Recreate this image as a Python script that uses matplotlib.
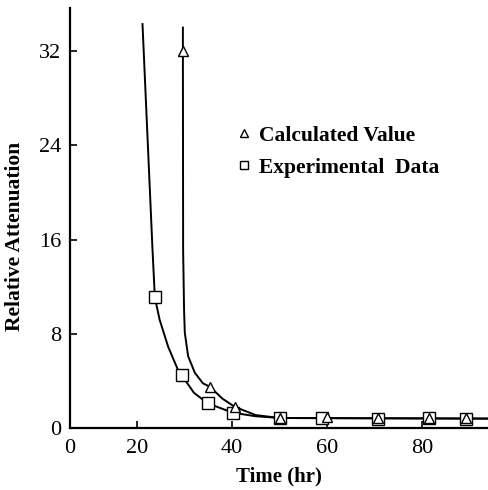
import matplotlib.pyplot as plt
from matplotlib.lines import Line2D

plt.rcParams['font.family'] = ['Liberation Serif', 'DejaVu Serif']

# markers
exp_x = [23.8, 29.6, 34.9, 40.2, 50.1, 58.9, 70.7, 81.5, 89.3]
exp_y = [11.1, 4.5, 2.1, 1.3, 0.85, 0.85, 0.8, 0.85, 0.8]
calc_x = [29.7, 35.4, 40.6, 50.1, 60.1, 70.7, 81.5, 89.3]
calc_y = [32.0, 3.5, 1.8, 0.85, 0.9, 0.85, 0.85, 0.85]

# curve traces
exp_cx = [21.2, 23.3, 23.8, 24.8, 26.6, 28.7, 29.6, 32.0, 34.9, 40.2, 45.0, 50.1, 94.0]
exp_cy = [34.3, 15.2, 11.1, 9.2, 6.9, 4.9, 4.4, 3.0, 2.1, 1.3, 1.0, 0.85, 0.8]
calc_cx = [29.7, 29.7, 29.75, 29.95, 30.1, 30.8, 32.2, 33.9, 35.4, 38.0, 40.6, 45.0, 50.1, 94.0]
calc_cy = [34.0, 32.0, 15.1, 10.0, 8.1, 6.1, 4.7, 3.8, 3.5, 2.5, 1.8, 1.1, 0.85, 0.8]

yticks = [0, 8, 16, 24, 32]
xticks = [20, 40, 60, 80]

fig = plt.figure(figsize=(4.88, 4.90), dpi=100)
ax = fig.add_axes([0.143, 0.1265, 0.857, 0.858])

ax.plot(exp_cx, exp_cy, color='black', lw=1.4)
ax.plot(calc_cx, calc_cy, color='black', lw=1.4)
ax.plot(exp_x, exp_y, ls='none', marker='s', ms=8.5, mfc='white', mec='black', mew=1.0)
ax.plot(calc_x, calc_y, ls='none', marker='^', ms=7.5, mfc='white', mec='black', mew=1.0)

ax.set_xlim(5.9, 93.9)
ax.set_ylim(0, 35.7)
ax.set_xticks([5.9] + xticks)
ax.set_xticklabels(['0'] + [str(t) for t in xticks])
ax.set_yticks(yticks)
ax.tick_params(direction='in', length=5, width=1.2, labelsize=16, pad=6)
ax.tick_params(axis='x', pad=8)
for s in ['top', 'right']:
    ax.spines[s].set_visible(False)
for s in ['left', 'bottom']:
    ax.spines[s].set_linewidth(1.6)

ax.set_xlabel('Time (hr)', fontsize=15, fontweight='bold', labelpad=6)
ax.set_ylabel('Relative Attenuation', fontsize=15.5, fontweight='bold')
ax.yaxis.set_label_coords(-0.108, 0.457)

handles = [
    Line2D([], [], ls='none', marker='^', ms=6, mfc='white', mec='black', mew=1.0),
    Line2D([], [], ls='none', marker='s', ms=6, mfc='white', mec='black', mew=1.0),
]
ax.legend(handles, ['Calculated Value', 'Experimental  Data'], loc='upper left',
          bbox_to_anchor=(0.355, 0.765), frameon=False,
          prop={'size': 15.5, 'weight': 'bold'},
          handlelength=0.6, handletextpad=0.4, labelspacing=0.55)

fig.savefig('out.png', dpi=100)
